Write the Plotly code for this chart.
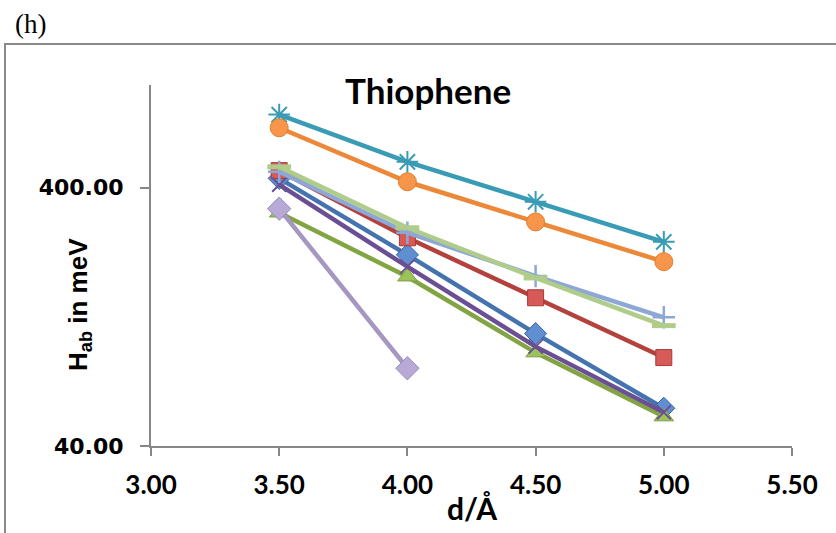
import plotly.graph_objects as go
import math

d = [3.5, 4.0, 4.5, 5.0]
d_short = [3.5, 4.0]

s1_blue = [435, 220, 109, 56]
s2_red = [466, 256, 150, 88]
s3_green = [320, 181, 92, 52]
s4_purple = [411, 198, 97, 54]
s5_teal = [768, 504, 353, 247]
s6_orange = [683, 422, 295, 207]
s7_lightblue = [461, 268, 182, 126]
s8_lightgreen = [482, 280, 179, 117]
s9_lavender = [332, 80]

x_ticks = [3.0, 3.5, 4.0, 4.5, 5.0, 5.5]
y_ticks = [40, 400]
y_tick_text = ["40.00", "400.00"]

W, H = 836, 533
L, R, T, B = 151, 792, 85, 446


def xp(px):
    return (px - L) / (R - L)


def yp(py):
    return (B - py) / (B - T)


fig = go.Figure()

series = [
    (d, s1_blue, "#4473B0", dict(symbol="diamond", size=17, color="#5F8FD0", line=dict(color="#3C66A0", width=1))),
    (d, s2_red, "#B3413D", dict(symbol="square", size=16, color="#D65A57", line=dict(color="#A83B38", width=1))),
    (d, s3_green, "#82A443", dict(symbol="triangle-up", size=17, color="#9CC25A", line=dict(color="#7E9F40", width=1))),
    (d, s4_purple, "#6A4F94", dict(symbol="x-thin-open", size=14, color="#6A4F94", line=dict(color="#6A4F94", width=2))),
    (d, s5_teal, "#3A9BB5", dict(symbol="asterisk-open", size=18, color="#3A9BB5", line=dict(color="#3A9BB5", width=2))),
    (d, s6_orange, "#EC8838", dict(symbol="circle", size=18, color="#F7964A", line=dict(color="#E07E2E", width=1))),
    (d, s7_lightblue, "#8DA8D6", dict(symbol="cross-thin-open", size=16, color="#8DA8D6", line=dict(color="#8DA8D6", width=2.5))),
    (d, s8_lightgreen, "#B0CC8A", dict(symbol="line-ew-open", size=17, color="#B0CC8A", line=dict(color="#B0CC8A", width=5))),
    (d_short, s9_lavender, "#A597C2", dict(symbol="diamond", size=18, color="#B9A9D6", line=dict(color="#9A8BB8", width=1))),
]

for xs, ys, lc, mk in series:
    fig.add_trace(go.Scatter(x=xs, y=ys, mode="lines+markers",
                             line=dict(color=lc, width=4.5),
                             marker=mk, showlegend=False, cliponaxis=False))

axis_gray = "#878787"


def ann(text, x, y, font, **kw):
    return dict(text=text, xref="paper", yref="paper", x=xp(x), y=yp(y),
                xanchor="center", yanchor="middle", showarrow=False,
                font=font, **kw)


fig.update_layout(
    width=W, height=H,
    margin=dict(l=L, r=W - R, t=T, b=H - B),
    paper_bgcolor="white", plot_bgcolor="white",
    showlegend=False,
    xaxis=dict(
        range=[3.0, 5.5], tickvals=x_ticks, tickformat=".2f",
        showgrid=False, zeroline=False,
        showline=True, linecolor=axis_gray, linewidth=2,
        ticks="outside", ticklen=8, tickwidth=2, tickcolor=axis_gray,
        tickfont=dict(family="Lato", size=26, color="black", weight="bold"),
        ticklabelstandoff=7,
    ),
    yaxis=dict(
        type="log", range=[math.log10(40), 3.0],
        tickvals=y_ticks, ticktext=y_tick_text,
        showgrid=False, zeroline=False,
        showline=True, linecolor=axis_gray, linewidth=2,
        ticks="outside", ticklen=9, tickwidth=2, tickcolor=axis_gray,
        tickfont=dict(family="DejaVu Sans", size=22, color="black", weight="bold"),
        ticklabelstandoff=12,
    ),
    shapes=[dict(type="rect", xref="paper", yref="paper",
                 x0=xp(5), x1=xp(850), y0=yp(44), y1=yp(560),
                 line=dict(color="#8A8A8A", width=2), fillcolor="rgba(0,0,0,0)", layer="below")],
    annotations=[
        ann("(h)", 30, 24, dict(family="Liberation Serif", size=27, color="black")),
        ann("Thiophene", 428, 90, dict(family="Lato", size=35, color="black", weight="bold")),
        ann("H<sub>ab</sub> in meV", 79, 305, dict(family="Liberation Sans", size=26, color="black", weight="bold"),
            textangle=-90),
        ann("d/Å", 472, 508, dict(family="Lato", size=30, color="black", weight="bold")),
    ],
)

fig.write_html("out.html")
